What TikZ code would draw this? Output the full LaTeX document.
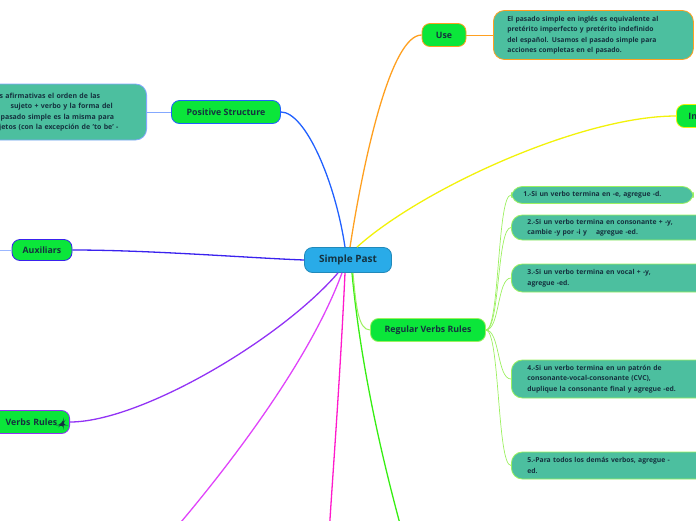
\documentclass[tikz,border=0pt]{standalone}
\usepackage{fontspec}
\setmainfont{Open Sans}
\usepackage{xcolor}
\usetikzlibrary{positioning,calc}
\definecolor{topicgreen}{HTML}{0BE63A}
\definecolor{noteteal}{HTML}{4CBF9F}
\definecolor{pastblue}{HTML}{29ABE8}
\definecolor{inkdark}{HTML}{15323F}
\definecolor{lineblue}{HTML}{2060FF}
\definecolor{lineorange}{HTML}{FFA020}
\definecolor{lineyellow}{HTML}{F2F20A}
\definecolor{lineindigo}{HTML}{3A22EE}
\definecolor{linepurple}{HTML}{9233F5}
\definecolor{lineviolet}{HTML}{E044FA}
\definecolor{linemagenta}{HTML}{FF1ACB}
\definecolor{linegreen}{HTML}{36EE12}
\definecolor{linelime}{HTML}{9CF060}

\begin{document}
\begin{tikzpicture}[x=1pt, y=-1pt,
  topic/.style={draw, line width=0.8pt, rounded corners=8pt, fill=topicgreen, text=inkdark,
    font=\bfseries\fontsize{8.8}{10}\selectfont, minimum height=23pt, inner xsep=8pt},
  note/.style={draw, line width=0.8pt, rounded corners=11pt, fill=noteteal, text=inkdark,
    font=\bfseries\fontsize{6.8}{10.5}\selectfont, align=left, anchor=west, inner xsep=16pt},
  branch/.style={line width=1.3pt},
  twig/.style={line width=0.7pt, linelime}]
  \useasboundingbox (0,0) rectangle (696,520);
  \clip (0,0) rectangle (696,520);

  \node[topic, fill=pastblue, draw=pastblue!80!black, minimum width=87pt, minimum height=25pt,
    font=\bfseries\fontsize{10}{12}\selectfont] (past) at (348,260) {Simple Past};

  \node[topic, draw=lineorange, minimum width=44pt] (use) at (444,35) {Use};
  \node[note, draw=lineorange, text width=172pt, minimum height=49pt, inner xsep=14pt]
    (usenote) at (493,35) {El pasado simple en inglés es equivalente al\\ pretérito imperfecto y pretérito indefinido\\ del español. Usamos el pasado simple para\\ acciones completas en el pasado.};

  \node[topic, draw=lineyellow, anchor=west, text width=60pt, align=left, inner xsep=12pt] (inter) at (676,116) {In};

  \node[topic, draw=lineblue, minimum width=109pt] (pos) at (226,112) {Positive Structure};
  \node[note, draw=lineblue!55, anchor=east, text width=134pt, minimum height=56pt, inner xsep=14pt,
    font=\bfseries\fontsize{7}{10.5}\selectfont]
    (posnote) at (147,112) {\hspace*{1pt}s afirmativas el orden de las\\ \hspace*{12pt}sujeto + verbo y la forma del\\ \hspace*{2pt}pasado simple es la misma para\\ \hspace*{-4pt}ujetos (con la excepción de 'to be' -};

  \node[topic, draw=lineindigo, minimum width=60pt, minimum height=21pt] (aux) at (42,250) {Auxiliars};

  \node[topic, draw=linepurple, anchor=east, text width=110pt, align=right, inner xsep=6pt] (irreg) at (70,422)
    {Verbs Rules \tikz[x=1pt,y=1pt]\fill[inkdark] (0,0) -- (3.5,0) -- (3.5,3.5) -- cycle;};

  \node[topic, draw=linelime, minimum width=115pt] (reg) at (428,330) {Regular Verbs Rules};

  \node[note, draw=linelime, text width=158pt, minimum height=17pt, inner xsep=12pt]
    (rule1) at (511,195) {1.-Si un verbo termina en -e, agregue -d.};
  \node[note, draw=linelime, text width=200pt, minimum height=25pt]
    (rule2) at (511,227.5) {2.-Si un verbo termina en consonante + -y,\\ cambie -y por -i y \ \ \ agregue -ed.};
  \node[note, draw=linelime, text width=200pt, minimum height=28pt]
    (rule3) at (511,278) {3.-Si un verbo termina en vocal + -y,\\ agregue -ed.};
  \node[note, draw=linelime, text width=200pt, minimum height=38pt]
    (rule4) at (511,379) {4.-Si un verbo termina en un patrón de\\ consonante-vocal-consonante (CVC),\\ duplique la consonante final y agregue -ed.};
  \node[note, draw=linelime, text width=200pt, minimum height=27pt]
    (rule5) at (511,465.5) {5.-Para todos los demás verbos, agregue -\\ ed.};

  \coordinate (cutviolet) at (170,535);
  \coordinate (cutmagenta) at (329,535);
  \coordinate (cutgreen) at (403,535);
  \coordinate (cutaux) at (-20,250);

  \draw[branch, lineblue] ($(past.north)+(-3,0)$) .. controls (335,180) and (305,112) .. (pos.east);
  \draw[branch, lineorange] ($(past.north)+(2,0)$) .. controls (365,150) and (392,35) .. (use.west);
  \draw[branch, lineyellow] ($(past.north)+(9,0)$) .. controls (420,190) and (580,116) .. (inter.west);
  \draw[branch, lineindigo] (past.west) .. controls (250,258) and (150,250) .. (aux.east);
  \draw[branch, linepurple] ($(past.south)+(-10,0)$) .. controls (280,340) and (140,422) .. (irreg.east);
  \draw[branch, lineviolet] ($(past.south)+(-6,0)$) .. controls (310,360) and (230,465) .. (cutviolet);
  \draw[branch, linemagenta] ($(past.south)+(-3,0)$) .. controls (340,380) and (333,470) .. (cutmagenta);
  \draw[branch, linegreen] ($(past.south)+(4,0)$) .. controls (362,380) and (388,480) .. (cutgreen);
  \draw[branch, linelime, line width=1pt] ($(past.south)+(5,0)$) .. controls (356,305) and (358,330) .. (reg.west);

  \draw[line width=0.7pt, lineorange] (use.east) -- (usenote.west);
  \draw[line width=0.7pt, lineblue!55] (pos.west) -- (posnote.east);
  \draw[line width=0.7pt, lineblue!45] (aux.west) -- (cutaux);

  \foreach \r in {rule1,rule2,rule3,rule4,rule5}
    \draw[twig] (reg.east) .. controls +(14,0) and +(-14,0) .. (\r.west);
\end{tikzpicture}
\end{document}
